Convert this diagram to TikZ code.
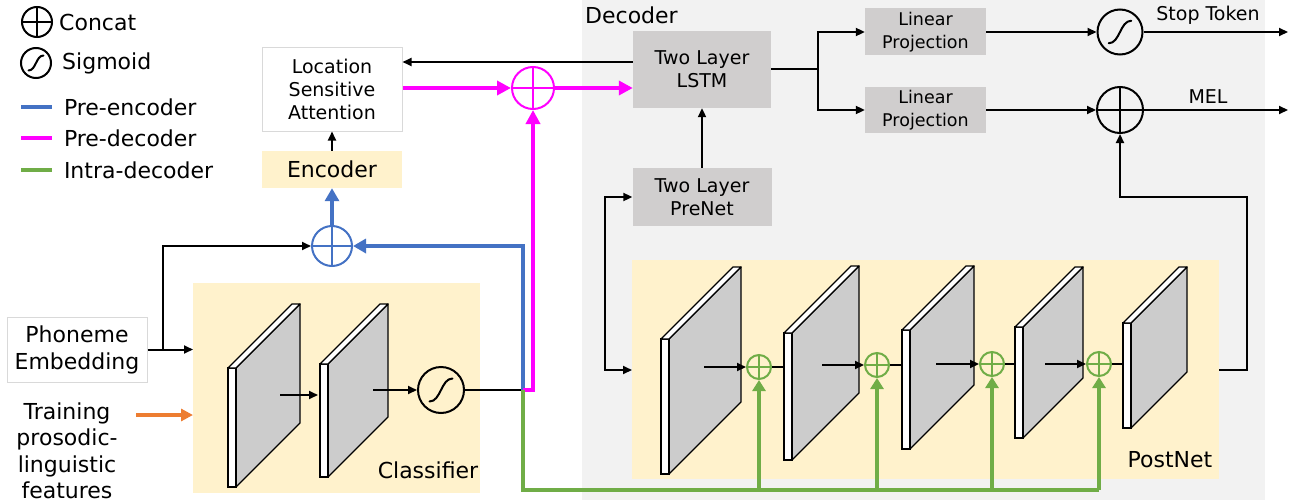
\documentclass[tikz,border=0pt]{standalone}
\usepackage{fontspec}
\setmainfont{DejaVu Sans}
\usetikzlibrary{positioning,arrows.meta,calc}

\definecolor{encblue}{HTML}{4472C4}
\definecolor{decpink}{HTML}{FF00FF}
\definecolor{intgreen}{HTML}{70AD47}
\definecolor{featorange}{HTML}{ED7D31}
\definecolor{paleyellow}{HTML}{FFF2CC}
\definecolor{decgray}{HTML}{F2F2F2}
\definecolor{boxgray}{HTML}{D0CECE}
\definecolor{slabgray}{HTML}{CCCCCC}
\definecolor{edgegray}{HTML}{D9D9D9}

% conv layer drawn as a thin slab: front x, top y, bottom y, depth
\newcommand{\convslab}[4]{%
  \filldraw[fill=slabgray, line width=1.3pt, line join=round]
    (#1+8,#3) -- (#1+8,#2) -- (#1+8+#4,#2-#4) -- (#1+8+#4,#3-#4) -- cycle;
  \filldraw[fill=white, line width=1.3pt] (#1,#2) rectangle (#1+8,#3);
  \filldraw[fill=white, line width=1.3pt, line join=round]
    (#1,#2) -- (#1+#4,#2-#4) -- (#1+8+#4,#2-#4) -- (#1+8,#2) -- cycle;
}

\begin{document}
\begin{tikzpicture}[x=1pt, y=-1pt,
  lbl/.style={font=\fontsize{22}{27}\selectfont, align=center, inner sep=0pt},
  sml/.style={font=\fontsize{19}{23}\selectfont, align=center, inner sep=0pt},
  gbox/.style={fill=boxgray, inner sep=0pt, align=center},
  wbox/.style={fill=white, draw=edgegray, line width=1pt, inner sep=0pt, align=center},
  bgbox/.style={anchor=north west, inner sep=0pt},
  arr/.style={-{Triangle[length=9pt,width=8pt]}, line width=2pt},
  encarr/.style={-{Triangle[length=13pt,width=14pt]}, line width=4pt, encblue},
  decarr/.style={-{Triangle[length=14pt,width=14pt]}, line width=4pt, decpink},
  intarr/.style={-{Triangle[length=11pt,width=13pt]}, line width=4pt, intgreen},
  concat/.style={circle, draw, line width=2pt, minimum size=#1, inner sep=0pt,
    path picture={\draw[line width=1.8pt]
      (path picture bounding box.north) -- (path picture bounding box.south)
      (path picture bounding box.west) -- (path picture bounding box.east);}},
  sigm/.style={circle, draw, line width=2pt, minimum size=#1, inner sep=0pt,
    path picture={\draw[line width=2pt, line cap=round]
      ($(path picture bounding box.center)!0.5!(path picture bounding box.south west)$)
      .. controls ($(path picture bounding box.center)!0.5!(path picture bounding box.south)$)
      and ($(path picture bounding box.center)!0.5!(path picture bounding box.north)$) ..
      ($(path picture bounding box.center)!0.5!(path picture bounding box.north east)$);}}
]
\useasboundingbox (0,0) rectangle (1298,503);

% backgrounds
\node[bgbox, fill=decgray, minimum width=683pt, minimum height=500pt] (decbg) at (582,0) {};
\node[bgbox, fill=paleyellow, minimum width=587pt, minimum height=219pt] (pnbg) at (632,260) {};
\node[bgbox, fill=paleyellow, minimum width=287pt, minimum height=210pt] (clsbg) at (193,283) {};
\node[lbl, anchor=west] at (585,15) {Decoder};
\node[lbl] at (428,470) {Classifier};
\node[lbl] at (1170,460) {PostNet};

% legend
\node[concat=30pt] (lgcat) at (37,22) {};
\node[lbl, anchor=west] at (59,22) {Concat};
\node[sigm=30pt] (lgsig) at (36,63) {};
\node[lbl, anchor=west] at (62,63) {Sigmoid};
\draw[encblue, line width=4pt] (21,107) -- (52,107) node[lbl, black, anchor=west, xshift=10pt] {Pre-encoder};
\draw[decpink, line width=4pt] (21,138) -- (52,138) node[lbl, black, anchor=west, xshift=10pt] {Pre-decoder};
\draw[intgreen, line width=4pt] (21,170) -- (52,170) node[lbl, black, anchor=west, xshift=10pt] {Intra-decoder};

% encoder side
\node[wbox, lbl, minimum width=140pt, minimum height=65pt] (phon) at (77,349.5) {Phoneme\\Embedding};
\node[lbl, font=\fontsize{22}{26.5}\selectfont] (train) at (67,451) {Training\\prosodic-\\linguistic\\features};
\node[fill=paleyellow, lbl, minimum width=140pt, minimum height=37pt] (enc) at (332,169.5) {Encoder};
\node[wbox, sml, minimum width=140pt, minimum height=83pt] (lsa) at (332,89.5) {Location\\Sensitive\\Attention};
\node[concat=40pt, color=encblue] (bcat) at (332,246) {};
\node[concat=42pt, color=decpink] (mcat) at (533,88) {};

% classifier
\convslab{228}{368}{487}{64}
\convslab{320}{364}{477}{60}
\node[sigm=46pt] (clsig) at (441,390) {};
\coordinate (c1) at (280,395);
\coordinate (c2) at (373,390);
\coordinate (jph) at (163,350);
\coordinate (jcl) at (523,390);
\coordinate (trin) at (136,415);

% decoder
\node[gbox, sml, minimum width=138pt, minimum height=77pt] (lstm) at (702,69.5) {Two Layer\\LSTM};
\node[gbox, sml, minimum width=139pt, minimum height=58pt] (prenet) at (702,197) {Two Layer\\PreNet};
\node[gbox, font=\fontsize{17.5}{23}\selectfont, minimum width=121pt, minimum height=47pt] (lp1) at (925.5,32) {Linear\\Projection};
\node[gbox, font=\fontsize{17.5}{23}\selectfont, minimum width=121pt, minimum height=46pt] (lp2) at (925.5,110) {Linear\\Projection};
\node[sigm=45pt] (stopsig) at (1120,32) {};
\node[concat=46pt] (melcat) at (1120,110) {};
\coordinate (stopout) at (1288,32);
\coordinate (melout) at (1288,110);
\node[sml] at (1208,15) {Stop Token};
\node[sml] at (1208,97) {MEL};
\coordinate (jls) at (818,69.5);
\coordinate (jpl) at (605,370);
\coordinate (jmel) at (1247,197);

% postnet
\convslab{661}{339}{474}{72}
\convslab{784}{333}{460}{67}
\convslab{902}{330}{449}{64}
\convslab{1015}{327}{438}{60}
\convslab{1123}{323}{428}{56}
\node[concat=24pt, color=intgreen] (gcat1) at (759,367) {};
\node[concat=24pt, color=intgreen] (gcat2) at (877,365) {};
\node[concat=24pt, color=intgreen] (gcat3) at (992,364) {};
\node[concat=24pt, color=intgreen] (gcat4) at (1099,364) {};
\coordinate (p1) at (704,367);
\coordinate (p2) at (822,365);
\coordinate (p3) at (936,364);
\coordinate (p4) at (1045,364);

% connectors, encoder side
\draw[arr] (phon.east) -- (phon.east -| clsbg.west);
\draw[arr] (jph) |- (bcat.west);
\draw[-{Triangle[length=12pt,width=12pt]}, line width=3.5pt, featorange] (trin) -- (trin -| clsbg.west);
\draw[arr] (c1) -- (c1 -| 318,0);
\draw[arr] (c2) -- (clsig.west);
\draw[line width=2pt] (clsig.east) -- (jcl);
\draw[encarr] (jcl) |- (bcat.east);
\draw[encarr] (bcat.north) -- (enc.south);
\draw[arr] (enc.north) -- (lsa.south);
\draw[decarr] (jcl) -| (mcat.south);
\draw[decarr] (lsa.east |- mcat) -- (mcat.west);
\draw[decarr] (mcat.east) -- (lstm.west |- mcat);
\draw[arr] (lstm.west |- 0,62) -- (lsa.east |- 0,62);

% connectors, decoder side
\draw[line width=2pt] (lstm.east) -- (jls);
\draw[arr] (jls) |- (lp1.west);
\draw[arr] (jls) |- (lp2.west);
\draw[arr] (lp1.east) -- (stopsig.west);
\draw[arr] (lp2.east) -- (melcat.west);
\draw[arr] (stopsig.east) -- (stopout);
\draw[arr] (melcat.east) -- (melout);
\draw[arr] (prenet.north) -- (lstm.south);
\draw[{Triangle[length=9pt,width=8pt]}-{Triangle[length=9pt,width=8pt]}, line width=2pt]
  (prenet.west) -| (jpl) -- (jpl -| pnbg.west);
\draw[arr] (pnbg.east |- 0,370) -| (jmel) -| (melcat.south);

% postnet chain
\draw[arr] (p1) -- (gcat1.west);
\draw[arr] (p2) -- (gcat2.west);
\draw[arr] (p3) -- (gcat3.west);
\draw[arr] (p4) -- (gcat4.west);
\draw[line width=2pt] (gcat1.east) -- (784,367);
\draw[line width=2pt] (gcat2.east) -- (902,365);
\draw[line width=2pt] (gcat3.east) -- (1015,364);
\draw[line width=2pt] (gcat4.east) -- (1123,364);

% intra-decoder
\draw[intgreen, line width=4pt] (jcl) |- (gcat4 |- 0,490);
\foreach \i in {1,...,4}
  \draw[intarr] (gcat\i |- 0,490) -- (gcat\i.south);
\end{tikzpicture}
\end{document}
